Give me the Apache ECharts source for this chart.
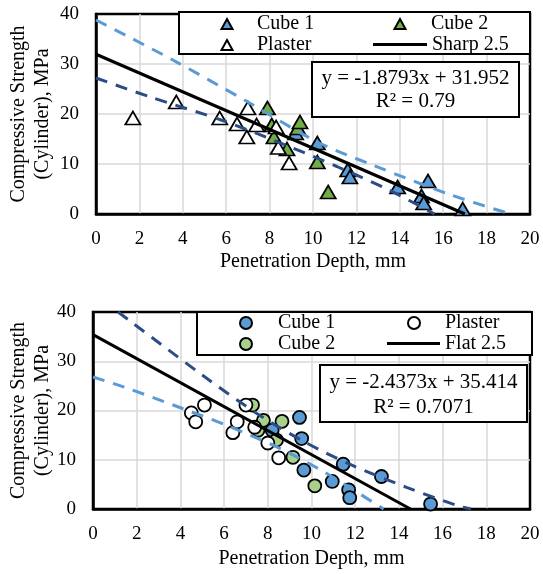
<!DOCTYPE html>
<html>
<head>
<meta charset="utf-8">
<script src="https://cdn.jsdelivr.net/npm/echarts@6/dist/echarts.min.js"></script>
<style>
html, body { margin: 0; padding: 0; background: #fff; }
#chart { width: 543px; height: 574px; }
</style>
</head>
<body>
<div id="chart"></div>
<script>
// axis ranges [min, max, interval]
const xRange = [0, 20, 2];
const yRange = [0, 40, 10];

// top panel (sharp tip) - [depth mm, strength MPa]
const sharpCube1 = [[9.2, 16.2], [10.2, 14.2], [11.6, 8.8], [11.7, 7.4], [13.9, 5.4], [15.0, 3.6], [15.1, 2.2], [15.3, 6.6], [16.9, 1.0]];
const sharpCube2 = [[7.9, 21.2], [8.1, 17.8], [8.2, 15.4], [8.8, 13.0], [9.3, 17.2], [9.4, 18.4], [10.2, 10.4], [10.7, 4.4]];
const sharpPlaster = [[1.7, 19.2], [3.7, 22.4], [5.7, 19.2], [6.5, 18.0], [6.95, 15.4], [7.0, 21.2], [7.4, 17.8], [8.3, 17.4], [8.4, 13.3], [8.9, 10.2]];
const sharpFit = [[0, 31.95], [17.0, 0]];
const sharpUpper = [[0, 38.8], [3.5, 30.9], [7, 22.4], [10.2, 14.4], [12.8, 9.7], [16.3, 3.9], [19.1, 0]];
const sharpLower = [[0, 27.2], [2.5, 23.4], [5.9, 18.6], [8.9, 13.5], [11.1, 9.5], [13.5, 4.8], [15.6, 0]];
const sharpEq = 'y = -1.8793x + 31.952\nR² = 0.79';

// bottom panel (flat tip)
const flatCube1 = [[8.2, 16.0], [9.45, 18.6], [9.55, 14.3], [9.65, 7.9], [10.95, 5.6], [11.45, 9.1], [11.7, 3.9], [11.75, 2.3], [13.2, 6.6], [15.45, 1.0]];
const flatCube2 = [[7.3, 21.1], [7.55, 16.0], [7.8, 18.0], [8.4, 14.0], [8.65, 17.8], [9.15, 10.5], [10.15, 4.7]];
const flatPlaster = [[4.5, 19.5], [4.7, 17.7], [5.1, 21.1], [6.4, 15.5], [6.6, 17.7], [7.0, 21.1], [7.4, 16.6], [8.0, 13.4], [8.5, 10.4]];
const flatFit = [[0, 35.41], [14.53, 0]];
const flatUpper = [[1.15, 40], [5.0, 27.2], [7.5, 19.4], [9.65, 13.7], [11.85, 8.9], [14.35, 4.4], [16.8, 0.5], [17.3, 0]];
const flatLower = [[0, 26.8], [1.4, 24.8], [4.1, 20.4], [6.25, 16.75], [8.65, 12.1], [10.7, 7.2], [13.3, 0]];
const flatEq = 'y = -2.4373x + 35.414\nR² = 0.7071';

const serif = 'Liberation Serif';
const blue = '#5b9bd5';
const navy = '#2b4c84';

const chart = echarts.init(document.getElementById('chart'));

const split = { showMinLine: false, showMaxLine: false, lineStyle: { color: '#d9d9d9', width: 1.5 } };

function xAxis(idx, gap) {
  return {
    gridIndex: idx, type: 'value',
    min: xRange[0], max: xRange[1], interval: xRange[2],
    name: 'Penetration Depth, mm', nameLocation: 'middle', nameGap: gap, nameMoveOverlap: false,
    nameTextStyle: { fontFamily: serif, fontSize: 20, color: '#000' },
    axisLine: { lineStyle: { color: '#000', width: 2.5 } },
    axisTick: { show: false },
    axisLabel: { fontFamily: serif, fontSize: 19, color: '#000', margin: 16 },
    splitLine: split
  };
}

function yAxis(idx, gap) {
  return {
    gridIndex: idx, type: 'value',
    min: yRange[0], max: yRange[1], interval: yRange[2],
    name: 'Compressive Strength\n(Cylinder), MPa', nameLocation: 'middle', nameGap: gap, nameMoveOverlap: false,
    nameTextStyle: { fontFamily: serif, fontSize: 20, color: '#000', lineHeight: 24 },
    axisLine: { lineStyle: { color: '#000', width: 2.5 } },
    axisTick: { show: false },
    axisLabel: { fontFamily: serif, fontSize: 19, color: '#000', margin: 17 },
    splitLine: split
  };
}

function pts(name, idx, data, symbol, size, fill) {
  return {
    name: name, type: 'scatter', xAxisIndex: idx, yAxisIndex: idx,
    symbol: symbol, symbolSize: size, data: data,
    itemStyle: { color: fill, borderColor: '#000', borderWidth: 1.8, opacity: 1 }
  };
}

function trend(name, idx, data, color, dashed) {
  return {
    name: name, type: 'line', xAxisIndex: idx, yAxisIndex: idx,
    data: data, symbol: 'none', smooth: dashed ? 0.3 : false,
    lineStyle: { color: color, width: 3, type: dashed ? [12, 9] : 'solid' },
    itemStyle: { color: color }, z: 4
  };
}

// one legend per item so the two-column Excel layout can be placed exactly;
// text line height 20 -> item centre sits 10px below top
function legend(name, left, centre, w, h, pad, icon) {
  const l = {
    data: [name], left: left, top: centre - 10, padding: 0,
    itemWidth: w, itemHeight: h, z: 7, selectedMode: false,
    textStyle: { fontFamily: serif, fontSize: 20, lineHeight: 20, color: '#000', padding: [0, 0, 0, pad] }
  };
  if (icon) l.icon = icon;
  return l;
}

chart.setOption({
  animation: false,
  grid: [
    { left: 96, top: 14, width: 434, height: 200, outerBoundsMode: 'none', show: true, borderColor: '#000', borderWidth: 2.5 },
    { left: 93, top: 312, width: 437, height: 197, outerBoundsMode: 'none', show: true, borderColor: '#000', borderWidth: 2.5 }
  ],
  xAxis: [xAxis(0, 38), xAxis(1, 40)],
  yAxis: [yAxis(0, 41), yAxis(1, 38)],
  legend: [
    legend('Cube 1', 220.5, 24, 11, 10, 19.5),
    legend('Plaster', 220.5, 45, 11, 10, 19.5),
    legend('Cube 2', 393.5, 24, 11, 10, 20.5),
    legend('Sharp 2.5', 373, 44.5, 54, 3, 0, 'rect'),
    legend('Cube 1 ', 239, 323, 12, 12, 21),
    legend('Cube 2 ', 239, 344, 12, 12, 21),
    legend('Plaster ', 407, 323, 12, 12, 20),
    legend('Flat 2.5', 387, 343.5, 53, 3, 0, 'rect')
  ],
  graphic: [
    { type: 'rect', z: 5, shape: { x: 179, y: 12, width: 351, height: 42 }, style: { fill: '#fff', stroke: '#000', lineWidth: 2 } },
    { type: 'rect', z: 5, shape: { x: 312, y: 62, width: 207, height: 55 }, style: { fill: '#fff', stroke: '#000', lineWidth: 2 } },
    { type: 'text', z: 6, x: 415.5, y: 90, style: { text: sharpEq, font: '21px "Liberation Serif"', fill: '#000', align: 'center', verticalAlign: 'middle', lineHeight: 23 } },
    { type: 'rect', z: 5, shape: { x: 197, y: 312, width: 335, height: 43 }, style: { fill: '#fff', stroke: '#000', lineWidth: 2 } },
    { type: 'rect', z: 5, shape: { x: 320, y: 365, width: 207, height: 57 }, style: { fill: '#fff', stroke: '#000', lineWidth: 2 } },
    { type: 'text', z: 6, x: 423.5, y: 394.5, style: { text: flatEq, font: '21px "Liberation Serif"', fill: '#000', align: 'center', verticalAlign: 'middle', lineHeight: 25 } }
  ],
  series: [
    pts('Cube 1', 0, sharpCube1, 'triangle', [15, 13], blue),
    pts('Cube 2', 0, sharpCube2, 'triangle', [15, 13], '#70ad47'),
    pts('Plaster', 0, sharpPlaster, 'triangle', [15, 13], '#fff'),
    trend('Sharp 2.5', 0, sharpFit, '#000', false),
    trend('sharp upper', 0, sharpUpper, blue, true),
    trend('sharp lower', 0, sharpLower, navy, true),
    pts('Cube 1 ', 1, flatCube1, 'circle', 13, blue),
    pts('Cube 2 ', 1, flatCube2, 'circle', 13, '#a9d18e'),
    pts('Plaster ', 1, flatPlaster, 'circle', 13, '#fff'),
    trend('Flat 2.5', 1, flatFit, '#000', false),
    trend('flat upper', 1, flatUpper, navy, true),
    trend('flat lower', 1, flatLower, blue, true)
  ]
});
</script>
</body>
</html>
